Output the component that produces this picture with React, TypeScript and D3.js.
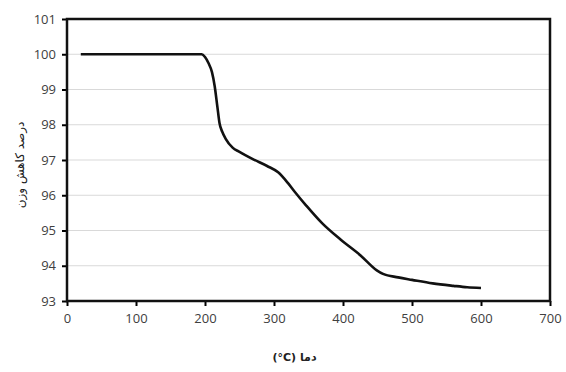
import React, { useEffect, useRef } from 'react';
import * as d3 from 'd3';

// temperature (°C) and weight %
const temps = [20, 190, 195, 200, 205, 210, 214, 218, 221, 225, 230, 240, 250, 270, 290, 306, 320, 330, 347, 370, 396, 425, 449, 458, 480, 500, 530, 560, 580, 600];
const weights = [100, 100, 100, 99.92, 99.75, 99.5, 99.1, 98.5, 98.05, 97.8, 97.6, 97.35, 97.23, 97.02, 96.83, 96.65, 96.35, 96.1, 95.7, 95.2, 94.75, 94.3, 93.87, 93.77, 93.67, 93.6, 93.5, 93.43, 93.39, 93.37];
const xTicks = [0, 100, 200, 300, 400, 500, 600, 700];
const yTicks = [93, 94, 95, 96, 97, 98, 99, 100, 101];
const xTitle = 'دما \u2066(°C)\u2069';
const yTitle = 'درصد کاهش وزن';

const App = () => {
  const ref = useRef<SVGSVGElement>(null);

  useEffect(() => {
    const width = 566;
    const height = 372;
    const margin = { top: 19, right: 16, bottom: 71, left: 67 };
    const w = width - margin.left - margin.right;
    const h = height - margin.top - margin.bottom;

    const svg = d3.select(ref.current);
    svg.selectAll('*').remove();

    const g = svg.append('g').attr('transform', `translate(${margin.left},${margin.top})`);

    const x = d3.scaleLinear().domain([0, 700]).range([0, w]);
    const y = d3.scaleLinear().domain([93, 101]).range([h, 0]);

    // gridlines
    g.append('g')
      .selectAll('line')
      .data(yTicks.slice(1, -1))
      .enter()
      .append('line')
      .attr('x1', 0)
      .attr('x2', w)
      .attr('y1', d => y(d))
      .attr('y2', d => y(d))
      .attr('stroke', '#d9d9d9')
      .attr('stroke-width', 1);

    // axes
    const xAxis = g.append('g')
      .attr('transform', `translate(0,${h})`)
      .call(d3.axisBottom(x).tickValues(xTicks).tickSize(5).tickPadding(8).tickFormat(d3.format('d')));
    const yAxis = g.append('g')
      .call(d3.axisLeft(y).tickValues(yTicks).tickSize(5).tickPadding(6).tickFormat(d3.format('d')));

    [xAxis, yAxis].forEach(a => {
      a.select('.domain').remove();
      a.selectAll('line').attr('stroke', '#000').attr('stroke-width', 2);
      a.selectAll('text')
        .attr('fill', '#404040')
        .style('font-family', '"Open Sans", "Noto Sans", sans-serif')
        .style('font-size', '13px');
    });

    // frame
    g.append('rect')
      .attr('x', 0)
      .attr('y', 0)
      .attr('width', w)
      .attr('height', h)
      .attr('fill', 'none')
      .attr('stroke', '#111')
      .attr('stroke-width', 2.5);

    // curve
    const pts = temps.map((t, i) => [t, weights[i]] as [number, number]);
    const line = d3.line<[number, number]>()
      .x(d => x(d[0]))
      .y(d => y(d[1]))
      .curve(d3.curveMonotoneX);

    g.append('path')
      .datum(pts)
      .attr('d', line)
      .attr('fill', 'none')
      .attr('stroke', '#111')
      .attr('stroke-width', 2.6)
      .attr('stroke-linejoin', 'round');

    // axis titles
    svg.append('text')
      .attr('x', margin.left + w / 2 - 14)
      .attr('y', 361)
      .attr('text-anchor', 'middle')
      .attr('direction', 'rtl')
      .style('font-family', '"DejaVu Sans", sans-serif')
      .style('font-size', '11px')
      .style('font-weight', 'bold')
      .attr('fill', '#222')
      .text(xTitle);

    svg.append('text')
      .attr('transform', `translate(24,165) rotate(-90)`)
      .attr('text-anchor', 'middle')
      .attr('direction', 'rtl')
      .style('font-family', '"DejaVu Sans", sans-serif')
      .style('font-size', '12px')
      .attr('fill', '#222')
      .text(yTitle);
  }, []);

  return (
    <svg
      ref={ref}
      width={566}
      height={372}
      style={{ position: 'absolute', top: 0, left: 0, background: '#fff' }}
    />
  );
};

export default App;
